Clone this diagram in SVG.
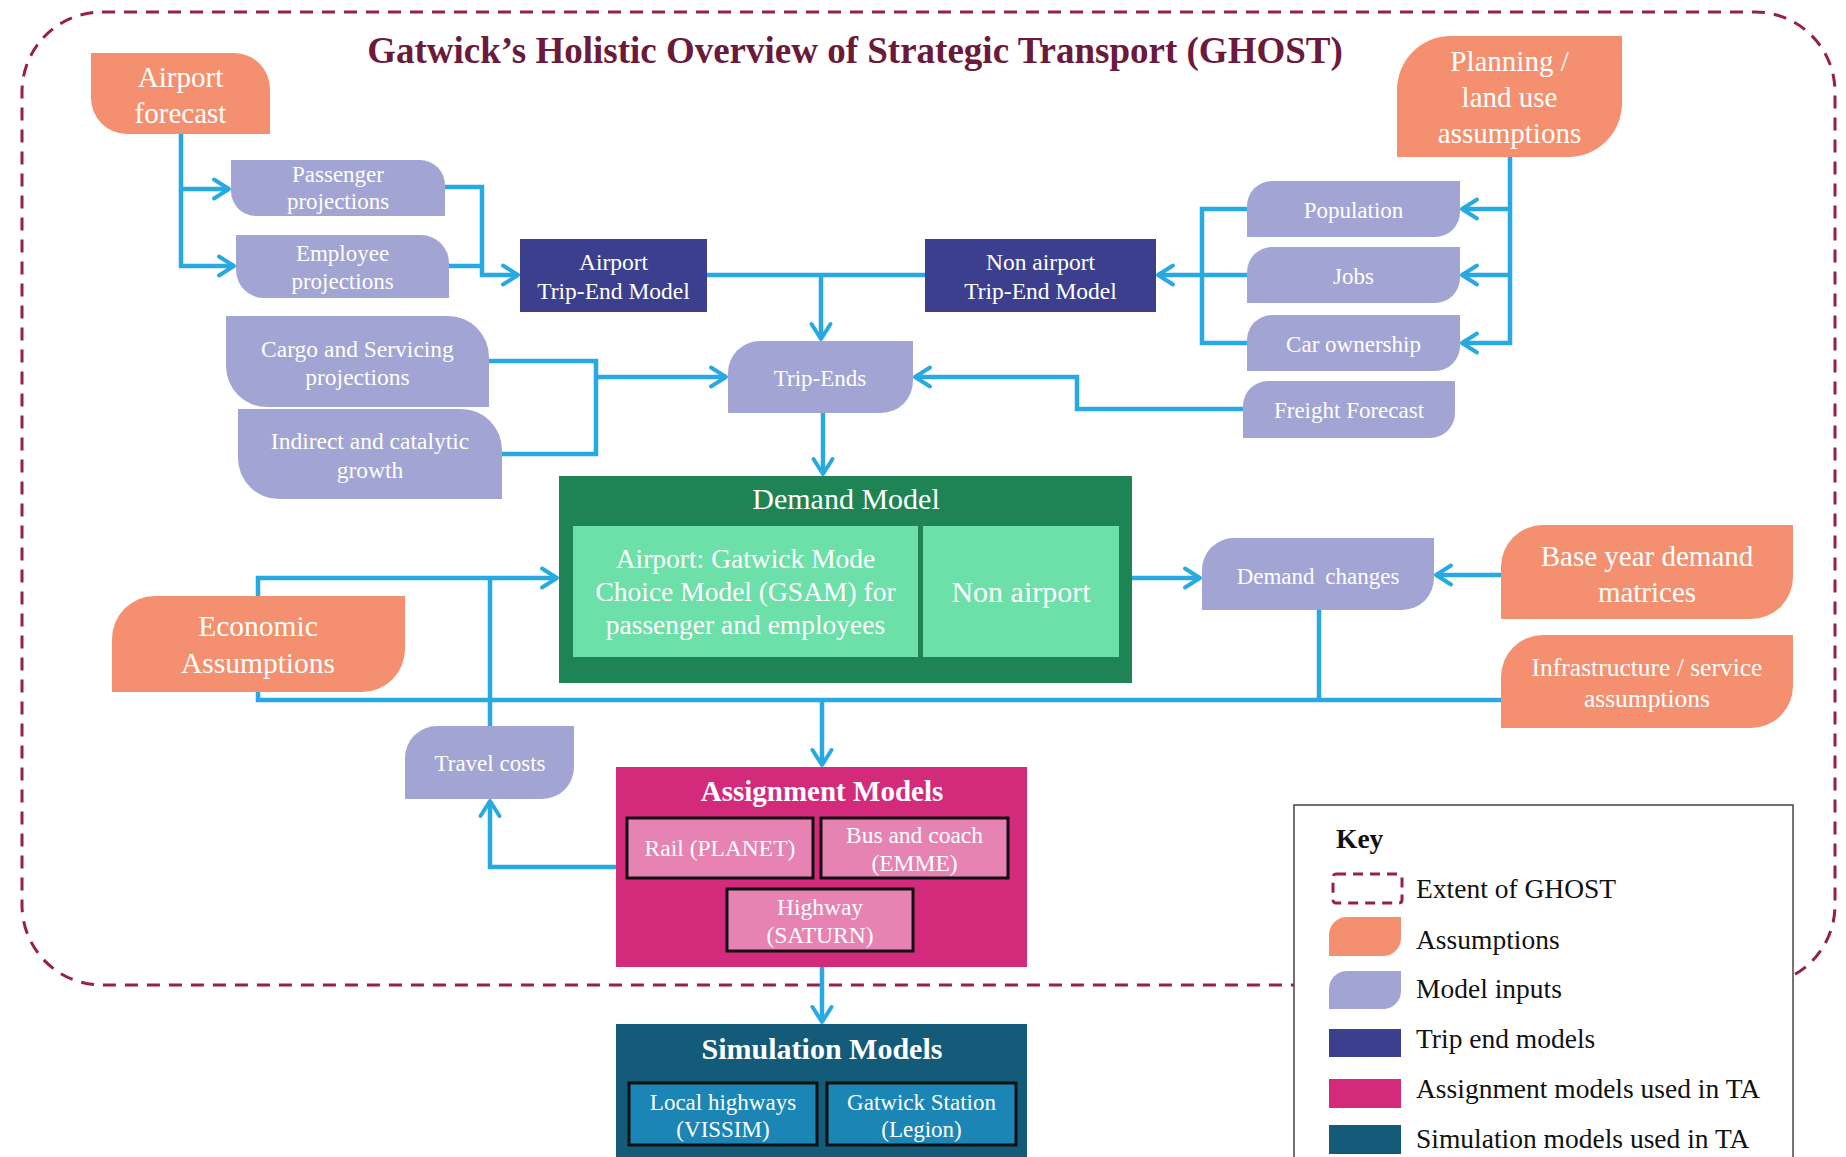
<svg xmlns="http://www.w3.org/2000/svg" width="1846" height="1157" viewBox="0 0 1846 1157">
<style>
.t{font-family:"Liberation Serif","Times New Roman",serif;fill:#fff;text-anchor:middle}
.b{font-weight:bold}
.k{font-family:"Liberation Serif","Times New Roman",serif;fill:#111;font-size:27.5px}
.as{fill:#f4906f}
.mi{fill:#a2a4d4}
.te{fill:#3c3f8e}
.c{fill:none;stroke:#29a9e1;stroke-width:4.5;stroke-linejoin:miter}
.ia{fill:#e683b3;stroke:#111;stroke-width:3}
.is{fill:#1b85b5;stroke:#111;stroke-width:3}
</style>
<defs>
<marker id="arr" markerUnits="userSpaceOnUse" markerWidth="24" markerHeight="26" viewBox="0 0 24 26" refX="19" refY="13" orient="auto">
<path d="M4,3.5 L19,13 L4,22.5" fill="none" stroke="#29a9e1" stroke-width="4" stroke-linecap="round" stroke-linejoin="round"/>
</marker>
</defs>
<rect width="1846" height="1157" fill="#fff"/>
<rect id="extent" x="22" y="12" width="1813" height="973" rx="80" ry="80" fill="none" stroke="#952050" stroke-width="3" stroke-dasharray="13 9"/>
<text class="b" x="855" y="63" font-family="Liberation Serif,serif" font-size="37" fill="#6b1a3c" text-anchor="middle">Gatwick’s Holistic Overview of Strategic Transport (GHOST)</text>

<g id="connectors">
<path class="c" d="M181,134 V189 H229" marker-end="url(#arr)"/>
<path class="c" d="M181,189 V266 H234" marker-end="url(#arr)"/>
<path class="c" d="M445,187 H482 V275 H518" marker-end="url(#arr)"/>
<path class="c" d="M449,266 H482"/>
<path class="c" d="M707,275 H925"/>
<path class="c" d="M821,275 V339" marker-end="url(#arr)"/>
<path class="c" d="M1247,209 H1202 V343 H1247"/>
<path class="c" d="M1247,275 H1158" marker-end="url(#arr)"/>
<path class="c" d="M1510,157 V343 H1462" marker-end="url(#arr)"/>
<path class="c" d="M1510,209 H1462" marker-end="url(#arr)"/>
<path class="c" d="M1510,275 H1462" marker-end="url(#arr)"/>
<path class="c" d="M489,361 H596 V454 H502"/>
<path class="c" d="M596,377 H726" marker-end="url(#arr)"/>
<path class="c" d="M1243,409 H1077 V377 H915" marker-end="url(#arr)"/>
<path class="c" d="M823,413 V474" marker-end="url(#arr)"/>
<path class="c" d="M258,596 V578 H557" marker-end="url(#arr)"/>
<path class="c" d="M490,726 V578"/>
<path class="c" d="M1132,578 H1200" marker-end="url(#arr)"/>
<path class="c" d="M1501,575 H1436" marker-end="url(#arr)"/>
<path class="c" d="M258,692 V700 H1501"/>
<path class="c" d="M1319,610 V700"/>
<path class="c" d="M822,700 V765" marker-end="url(#arr)"/>
<path class="c" d="M616,867 H490 V801" marker-end="url(#arr)"/>
<path class="c" d="M822,967 V1022" marker-end="url(#arr)"/>
</g>

<g id="airport-forecast">
<path class="as" d="M91,53 H234 A36,36 0 0 1 270,89 V134 H127 A36,36 0 0 1 91,98 Z"/>
<text class="t" x="180.5" y="87" font-size="29">Airport</text>
<text class="t" x="180.5" y="123" font-size="29">forecast</text>
</g>
<g id="planning">
<path class="as" d="M1451,36 H1622 V103 A54,54 0 0 1 1568,157 H1397 V90 A54,54 0 0 1 1451,36 Z"/>
<text class="t" x="1509.5" y="71" font-size="29">Planning /</text>
<text class="t" x="1509.5" y="107" font-size="29">land use</text>
<text class="t" x="1509.5" y="143" font-size="29">assumptions</text>
</g>
<g id="passenger">
<path class="mi" d="M231,160 H420 A25,25 0 0 1 445,185 V216 H256 A25,25 0 0 1 231,191 Z"/>
<text class="t" x="338" y="182" font-size="23">Passenger</text>
<text class="t" x="338" y="209" font-size="23">projections</text>
</g>
<g id="employee">
<path class="mi" d="M236,235 H421 A28,28 0 0 1 449,263 V298 H264 A28,28 0 0 1 236,270 Z"/>
<text class="t" x="342.5" y="261" font-size="23">Employee</text>
<text class="t" x="342.5" y="289" font-size="23">projections</text>
</g>
<g id="airport-tem">
<rect class="te" x="520" y="239" width="187" height="73"/>
<text class="t" x="613.5" y="270" font-size="23.5">Airport</text>
<text class="t" x="613.5" y="299" font-size="23.5">Trip-End Model</text>
</g>
<g id="nonairport-tem">
<rect class="te" x="925" y="239" width="231" height="73"/>
<text class="t" x="1040.5" y="270" font-size="23.5">Non airport</text>
<text class="t" x="1040.5" y="299" font-size="23.5">Trip-End Model</text>
</g>
<g id="population">
<path class="mi" d="M1272,181 H1460 V212 A25,25 0 0 1 1435,237 H1247 V206 A25,25 0 0 1 1272,181 Z"/>
<text class="t" x="1353.5" y="218" font-size="23">Population</text>
</g>
<g id="jobs">
<path class="mi" d="M1272,247 H1460 V278 A25,25 0 0 1 1435,303 H1247 V272 A25,25 0 0 1 1272,247 Z"/>
<text class="t" x="1353.5" y="284" font-size="23">Jobs</text>
</g>
<g id="car-ownership">
<path class="mi" d="M1272,315 H1460 V346 A25,25 0 0 1 1435,371 H1247 V340 A25,25 0 0 1 1272,315 Z"/>
<text class="t" x="1353.5" y="352" font-size="23">Car ownership</text>
</g>
<g id="freight">
<path class="mi" d="M1268,381 H1455 V413 A25,25 0 0 1 1430,438 H1243 V406 A25,25 0 0 1 1268,381 Z"/>
<text class="t" x="1349" y="418" font-size="23">Freight Forecast</text>
</g>
<g id="cargo">
<path class="mi" d="M226,316 H448 A41,41 0 0 1 489,357 V407 H267 A41,41 0 0 1 226,366 Z"/>
<text class="t" x="357.5" y="357" font-size="23.5">Cargo and Servicing</text>
<text class="t" x="357.5" y="385" font-size="23.5">projections</text>
</g>
<g id="indirect">
<path class="mi" d="M238,409 H461 A41,41 0 0 1 502,450 V499 H279 A41,41 0 0 1 238,458 Z"/>
<text class="t" x="370" y="449" font-size="23.5">Indirect and catalytic</text>
<text class="t" x="370" y="478" font-size="23.5">growth</text>
</g>
<g id="trip-ends">
<path class="mi" d="M760,341 H913 V381 A32,32 0 0 1 881,413 H728 V373 A32,32 0 0 1 760,341 Z"/>
<text class="t" x="820" y="386" font-size="23">Trip-Ends</text>
</g>
<g id="demand-model">
<rect x="559" y="476" width="573" height="207" fill="#1e8453"/>
<text class="t" x="846" y="509" font-size="30">Demand Model</text>
<rect x="573" y="526" width="345" height="131" fill="#6ddfa9"/>
<text class="t" x="745.5" y="568" font-size="27.5">Airport: Gatwick Mode</text>
<text class="t" x="745.5" y="601" font-size="27.5">Choice Model (GSAM) for</text>
<text class="t" x="745.5" y="634" font-size="27.5">passenger and employees</text>
<rect x="923" y="526" width="196" height="131" fill="#6ddfa9"/>
<text class="t" x="1021" y="602" font-size="30">Non airport</text>
</g>
<g id="demand-changes">
<path class="mi" d="M1234,538 H1434 V578 A32,32 0 0 1 1402,610 H1202 V570 A32,32 0 0 1 1234,538 Z"/>
<text class="t" x="1318" y="584" font-size="23" word-spacing="5">Demand changes</text>
</g>
<g id="base-year">
<path class="as" d="M1543,525 H1793 V577 A42,42 0 0 1 1751,619 H1501 V567 A42,42 0 0 1 1543,525 Z"/>
<text class="t" x="1647" y="566" font-size="29">Base year demand</text>
<text class="t" x="1647" y="602" font-size="29">matrices</text>
</g>
<g id="infrastructure">
<path class="as" d="M1543,635 H1793 V686 A42,42 0 0 1 1751,728 H1501 V677 A42,42 0 0 1 1543,635 Z"/>
<text class="t" x="1647" y="676" font-size="25.5">Infrastructure / service</text>
<text class="t" x="1647" y="707" font-size="25.5">assumptions</text>
</g>
<g id="economic">
<path class="as" d="M155,596 H405 V649 A43,43 0 0 1 362,692 H112 V639 A43,43 0 0 1 155,596 Z"/>
<text class="t" x="258" y="636" font-size="29.5">Economic</text>
<text class="t" x="258" y="673" font-size="29.5">Assumptions</text>
</g>
<g id="travel-costs">
<path class="mi" d="M437,726 H574 V767 A32,32 0 0 1 542,799 H405 V758 A32,32 0 0 1 437,726 Z"/>
<text class="t" x="490" y="771" font-size="23">Travel costs</text>
</g>
<g id="assignment">
<rect x="616" y="767" width="411" height="200" fill="#d42a7b"/>
<text class="t b" x="822" y="801" font-size="29">Assignment Models</text>
<rect class="ia" x="627" y="818" width="186" height="60"/>
<text class="t" x="720" y="856" font-size="23.5">Rail (PLANET)</text>
<rect class="ia" x="821" y="818" width="187" height="60"/>
<text class="t" x="914.5" y="843" font-size="23.5">Bus and coach</text>
<text class="t" x="914.5" y="871" font-size="23.5">(EMME)</text>
<rect class="ia" x="727" y="889" width="186" height="62"/>
<text class="t" x="820" y="915" font-size="23.5">Highway</text>
<text class="t" x="820" y="943" font-size="23.5">(SATURN)</text>
</g>
<g id="simulation">
<rect x="616" y="1024" width="411" height="140" fill="#135b79"/>
<text class="t b" x="822" y="1059" font-size="30">Simulation Models</text>
<rect class="is" x="629" y="1083" width="188" height="62"/>
<text class="t" x="723" y="1110" font-size="23">Local highways</text>
<text class="t" x="723" y="1137" font-size="23">(VISSIM)</text>
<rect class="is" x="827" y="1083" width="189" height="62"/>
<text class="t" x="921.5" y="1110" font-size="23">Gatwick Station</text>
<text class="t" x="921.5" y="1137" font-size="23">(Legion)</text>
</g>
<g id="key">
<rect x="1294" y="805" width="499" height="370" fill="#fff" stroke="#444" stroke-width="1.5"/>
<text class="k b" x="1336" y="848">Key</text>
<rect x="1333" y="874" width="69" height="29" rx="3" fill="none" stroke="#952050" stroke-width="3" stroke-dasharray="10 7"/>
<text class="k" x="1416" y="898">Extent of GHOST</text>
<path class="as" d="M1347,917 H1401 V938 A18,18 0 0 1 1383,956 H1329 V935 A18,18 0 0 1 1347,917 Z"/>
<text class="k" x="1416" y="949">Assumptions</text>
<path class="mi" d="M1347,971 H1401 V991 A18,18 0 0 1 1383,1009 H1329 V989 A18,18 0 0 1 1347,971 Z"/>
<text class="k" x="1416" y="998">Model inputs</text>
<rect class="te" x="1329" y="1029" width="72" height="28"/>
<text class="k" x="1416" y="1048">Trip end models</text>
<rect x="1329" y="1079" width="72" height="29" fill="#d42a7b"/>
<text class="k" x="1416" y="1098">Assignment models used in TA</text>
<rect x="1329" y="1125" width="72" height="29" fill="#135b79"/>
<text class="k" x="1416" y="1148">Simulation models used in TA</text>
</g>
</svg>
